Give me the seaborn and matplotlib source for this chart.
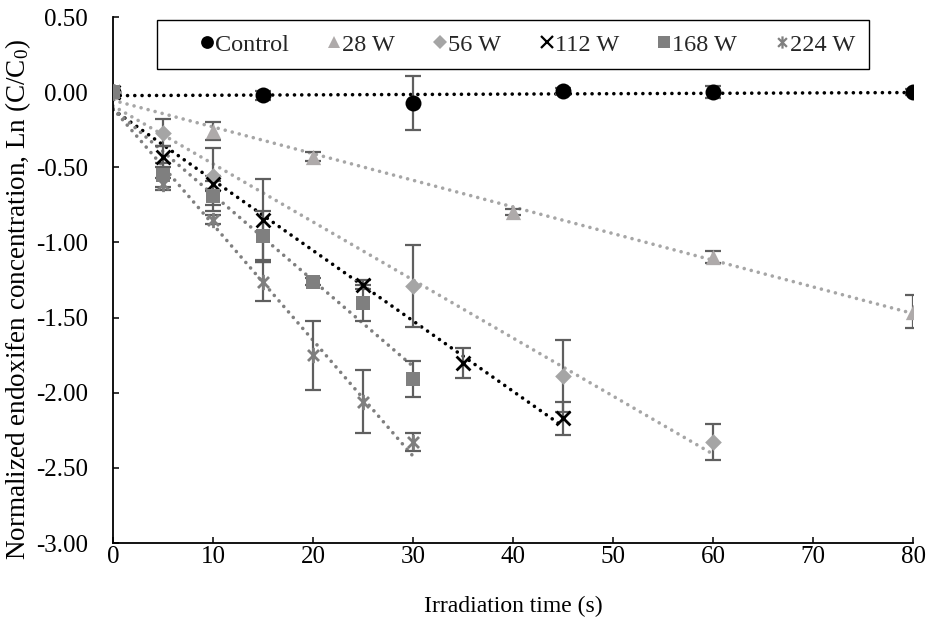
import numpy as np
import pandas as pd
import matplotlib
matplotlib.use("Agg")
import matplotlib.pyplot as plt
from matplotlib.lines import Line2D
from matplotlib.path import Path
import seaborn as sns

# Irradiation time (s), Ln(C/C0) means and standard deviations for each lamp power
t_control = [0, 15, 30, 45, 60, 80]
y_control = [0.00, -0.02, -0.07, 0.01, 0.00, 0.00]
e_control = [0.00, 0.03, 0.18, 0.02, 0.04, 0.02]

t_28w = [0, 10, 20, 40, 60, 80]
y_28w = [0.00, -0.26, -0.43, -0.80, -1.10, -1.46]
e_28w = [0.00, 0.06, 0.03, 0.02, 0.04, 0.11]

t_56w = [0, 5, 10, 30, 45, 60]
y_56w = [0.00, -0.27, -0.56, -1.29, -1.89, -2.33]
e_56w = [0.00, 0.09, 0.19, 0.27, 0.24, 0.12]

t_112w = [0, 5, 10, 15, 25, 35, 45]
y_112w = [0.00, -0.43, -0.61, -0.85, -1.28, -1.80, -2.17]
e_112w = [0.00, 0.07, 0.05, 0.27, 0.03, 0.10, 0.11]

t_168w = [0, 5, 10, 15, 20, 25, 30]
y_168w = [0.00, -0.55, -0.69, -0.96, -1.26, -1.40, -1.91]
e_168w = [0.00, 0.08, 0.10, 0.17, 0.02, 0.12, 0.12]

t_224w = [0, 5, 10, 15, 20, 25, 30]
y_224w = [0.00, -0.61, -0.85, -1.26, -1.75, -2.06, -2.33]
e_224w = [0.00, 0.04, 0.03, 0.13, 0.23, 0.21, 0.06]

labels = ["Control", "28 W", "56 W", "112 W", "168 W", "224 W"]
x_ticks = [0, 10, 20, 30, 40, 50, 60, 70, 80]
y_ticks = [0.50, 0.00, -0.50, -1.00, -1.50, -2.00, -2.50, -3.00]

sns.set_theme(style="white")
plt.rcParams["font.family"] = ["Liberation Serif", "DejaVu Serif"]
plt.rcParams["mathtext.fontset"] = "custom"
plt.rcParams["mathtext.rm"] = "Liberation Serif"
plt.rcParams["axes.unicode_minus"] = False

TICK_FS = 18
LEG_FS = 17.5
XLAB_FS = 17
YLAB_FS = 19.5

# asterisk: a vertical stroke crossed by an x
asterisk = Path(
    [(0, -1), (0, 1), (-0.72, -0.72), (0.72, 0.72), (-0.72, 0.72), (0.72, -0.72)],
    [Path.MOVETO, Path.LINETO, Path.MOVETO, Path.LINETO, Path.MOVETO, Path.LINETO],
)

series = [
    # label, t, y, err, marker, colour, marker size, trend colour
    ("Control", t_control, y_control, e_control, "o", "#000000", 11.5, "#000000"),
    ("28 W", t_28w, y_28w, e_28w, "^", "#AEAAAA", 11.0, "#A6A6A6"),
    ("56 W", t_56w, y_56w, e_56w, "D", "#A5A5A5", 8.5, "#A6A6A6"),
    ("112 W", t_112w, y_112w, e_112w, "x", "#000000", 10.0, "#000000"),
    ("168 W", t_168w, y_168w, e_168w, "s", "#7F7F7F", 10.0, "#7F7F7F"),
    ("224 W", t_224w, y_224w, e_224w, asterisk, "#7F7F7F", 11.0, "#7F7F7F"),
]
line_markers = ("x",)

frames = []
for name, t, y, e, *_ in series:
    frames.append(pd.DataFrame({"time": t, "lnc": y, "sd": e, "power": name}))
df = pd.concat(frames, ignore_index=True)

fig = plt.figure(figsize=(9.27, 6.25), dpi=100)
ax = fig.add_axes([0.1219, 0.1312, 0.863, 0.8416])

dot_style = dict(linestyle=(0, (0.01, 2.0)), dash_capstyle="round", linewidth=2.6)

# linear trendlines
for name, t, y, e, marker, fc, ms, lc in series:
    sub = df[df["power"] == name]
    sns.regplot(data=sub, x="time", y="lnc", ax=ax, scatter=False, ci=None,
                truncate=True, color=lc, line_kws=dict(zorder=2, **dot_style))

# error bars
for name, t, y, e, marker, fc, ms, lc in series:
    sub = df[df["power"] == name]
    ax.errorbar(sub["time"], sub["lnc"], yerr=sub["sd"], fmt="none",
                ecolor="#5F5F5F", elinewidth=1.6, capsize=5.5, capthick=1.6,
                zorder=3)

# data markers
for i, (name, t, y, e, marker, fc, ms, lc) in enumerate(series):
    sub = df[df["power"] == name]
    stroked = isinstance(marker, Path) or marker in line_markers
    if stroked:
        sns.scatterplot(data=sub, x="time", y="lnc", ax=ax, marker=marker,
                        s=ms ** 2, color=fc, edgecolor=fc, linewidth=2.0,
                        zorder=4 + i, legend=False)
    else:
        sns.scatterplot(data=sub, x="time", y="lnc", ax=ax, marker=marker,
                        s=ms ** 2, color=fc, edgecolor=fc, linewidth=0,
                        zorder=4 + i, legend=False)

ax.set_xlim(0, 80)
ax.set_ylim(-3.0, 0.5)
ax.set_xticks(x_ticks)
ax.set_yticks(y_ticks)
ax.set_xticklabels([f"{v:d}" for v in x_ticks])
ax.set_yticklabels([f"{v:.2f}" for v in y_ticks])
ax.tick_params(axis="both", direction="in", length=4.5, width=1.1,
               colors="#000000", labelsize=TICK_FS, left=True, bottom=True)
ax.tick_params(axis="y", pad=18)
ax.tick_params(axis="x", pad=2)
for side in ("top", "right"):
    ax.spines[side].set_visible(False)
for side in ("left", "bottom"):
    ax.spines[side].set_color("#000000")
    ax.spines[side].set_linewidth(1.3)

ax.set_xlabel("Irradiation time (s)", fontsize=XLAB_FS, color="#000000")
ax.set_ylabel(r"Normalized endoxifen concentration, Ln (C/C$\mathregular{_0}$)",
              fontsize=YLAB_FS, color="#000000")
ax.xaxis.set_label_coords(0.5, -0.1)
ax.yaxis.set_label_coords(-0.1, 0.462)

handles = []
for name, t, y, e, marker, fc, ms, lc in series:
    stroked = isinstance(marker, Path) or marker in line_markers
    h = Line2D([], [], linestyle="none", marker=marker, markersize=ms * 0.8,
               color=fc, markeredgewidth=1.6 if stroked else 0)
    handles.append(h)

leg = ax.legend(handles, labels, loc="upper center", bbox_to_anchor=(0.5, 0.994),
                ncol=6, fontsize=LEG_FS, frameon=True, fancybox=False,
                handlelength=3.0, handletextpad=-1.17, columnspacing=0.36,
                borderpad=0.55, borderaxespad=0)
leg.get_frame().set_edgecolor("#000000")
leg.get_frame().set_linewidth(1.0)
leg.get_frame().set_alpha(1)

fig.savefig("out.png", dpi=100)
